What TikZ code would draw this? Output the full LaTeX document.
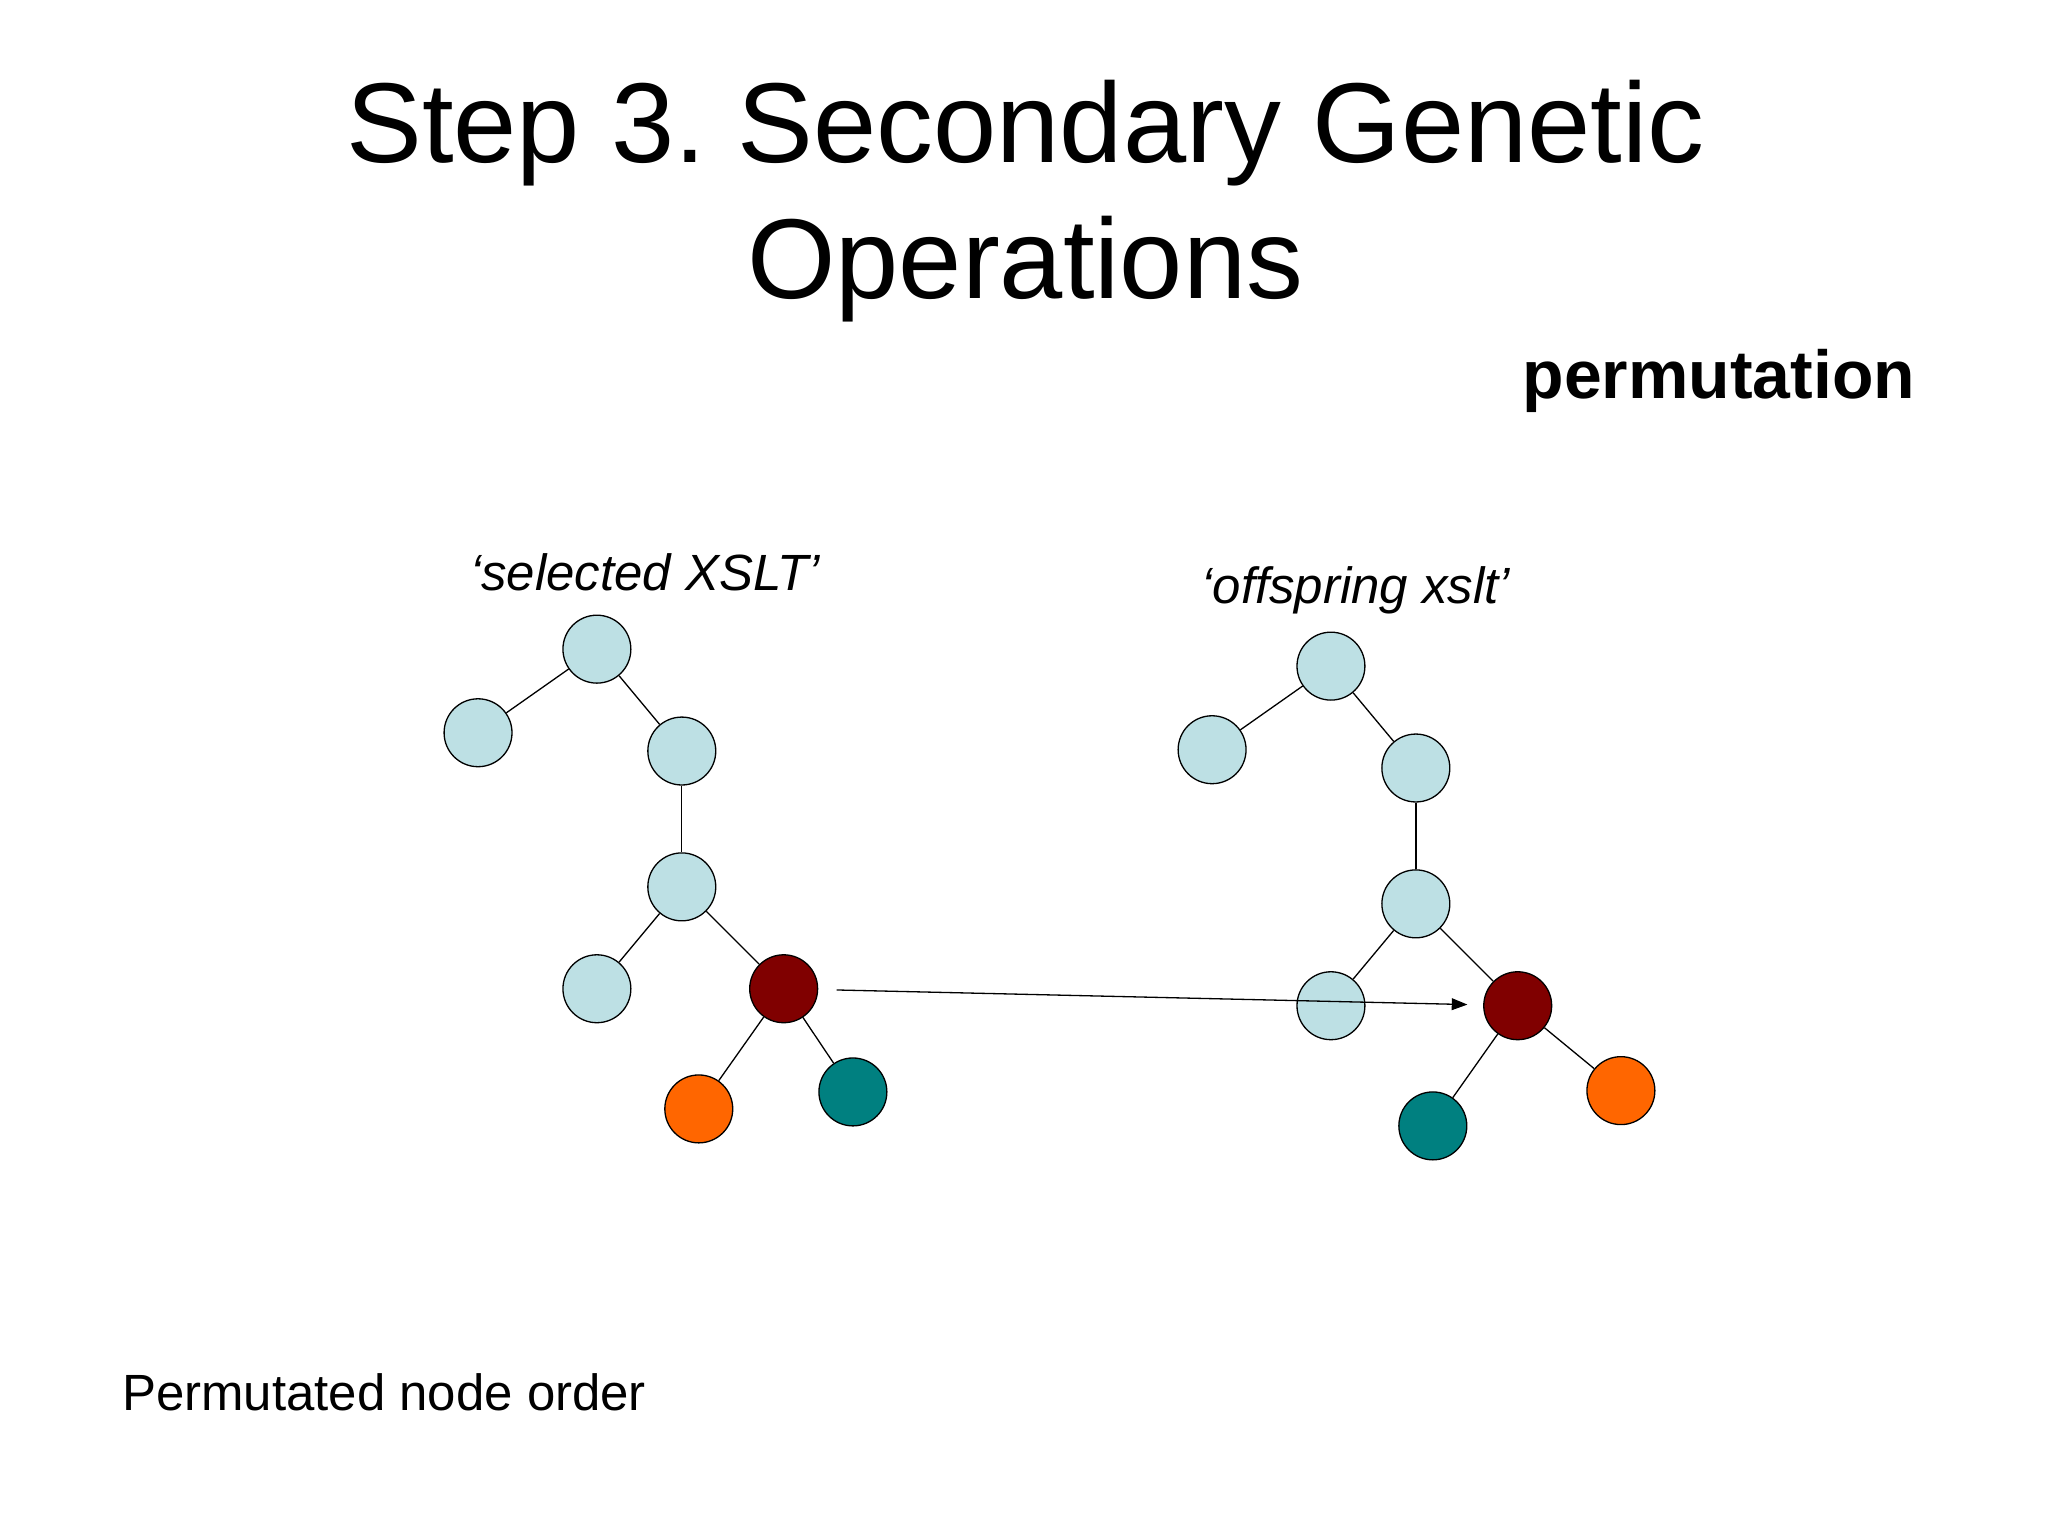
\documentclass[tikz,border=0pt]{standalone}
\usepackage{fontspec}
\setmainfont{Liberation Sans}
\usetikzlibrary{arrows.meta}
\begin{document}
\frenchspacing
\begin{tikzpicture}[x=1pt,y=-1pt,
 n/.style={circle,draw=black,line width=1pt,minimum size=52pt,inner sep=0pt},
 lb/.style={n,fill=lb},
 e/.style={draw=black,line width=1pt}]
\definecolor{lb}{HTML}{BDE0E4}
\definecolor{dred}{HTML}{800000}
\definecolor{org}{HTML}{FF6600}
\definecolor{tl}{HTML}{008080}
\useasboundingbox (0,0) rectangle (1568,1176);
\fill[white] (0,0) rectangle (1568,1176);
\node[font=\fontsize{87}{104}\selectfont,align=center] (title) at (785,154) {Step 3. Secondary Genetic\\Operations};
\node[font=\fontsize{52}{60}\selectfont\bfseries] (perm) at (1316,292) {permutation};
\node[font=\fontsize{39}{46}\selectfont\itshape] (l1) at (494,438) {‘selected XSLT’};
\node[font=\fontsize{39}{46}\selectfont\itshape] (l2) at (1038,452) {‘offspring xslt’};
\node[font=\fontsize{39}{46}\selectfont,anchor=west] (foot) at (90,1066) {Permutated node order};
% left tree
\node[lb] (a1) at (457,497) {};
\node[lb] (a2) at (366,561) {};
\node[lb] (a3) at (522,575) {};
\node[lb] (a4) at (522,679) {};
\node[lb] (a5) at (457,757) {};
\node[n,fill=dred] (a6) at (600,757) {};
\node[n,fill=org] (a7) at (535,849) {};
\node[n,fill=tl] (a8) at (653,836) {};
\draw[e] (a1)--(a2); \draw[e] (a1)--(a3); \draw[e] (a3)--(a4);
\draw[e] (a4)--(a5); \draw[e] (a4)--(a6); \draw[e] (a6)--(a7); \draw[e] (a6)--(a8);
% right tree
\node[lb] (b1) at (1019,510) {};
\node[lb] (b2) at (928,574) {};
\node[lb] (b3) at (1084,588) {};
\node[lb] (b4) at (1084,692) {};
\node[lb] (b5) at (1019,770) {};
\node[n,fill=dred] (b6) at (1162,770) {};
\node[n,fill=tl] (b7) at (1097,862) {};
\node[n,fill=org] (b8) at (1241,835) {};
\draw[e] (b1)--(b2); \draw[e] (b1)--(b3); \draw[e] (b3)--(b4);
\draw[e] (b4)--(b5); \draw[e] (b4)--(b6); \draw[e] (b6)--(b7); \draw[e] (b6)--(b8);
\draw[e,-{Triangle[length=12pt,width=9pt]},shorten <=14pt,shorten >=12pt] (a6)--(b6);
\end{tikzpicture}
\end{document}
